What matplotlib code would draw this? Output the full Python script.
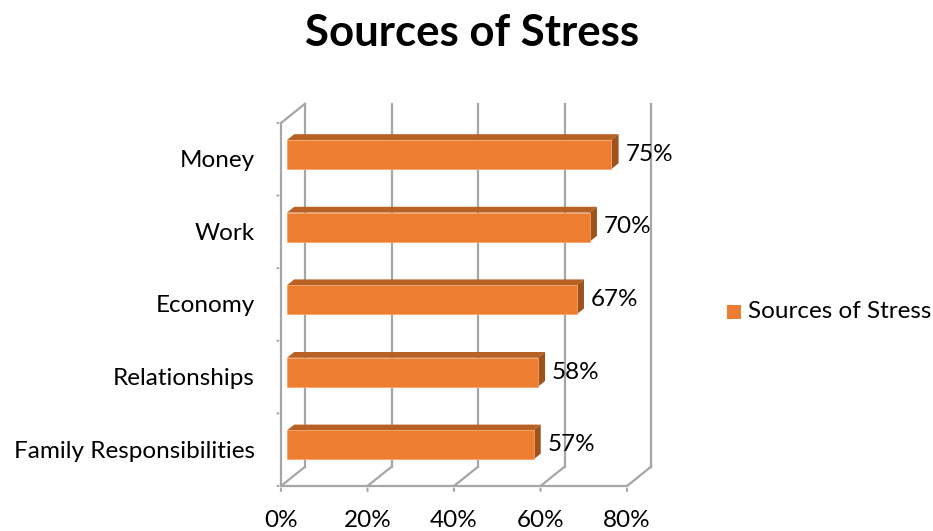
import matplotlib
matplotlib.use("Agg")
import matplotlib.pyplot as plt
from matplotlib.patches import Polygon, Rectangle

plt.rcParams['font.family'] = ['Lato', 'DejaVu Sans']

# Data
categories = ["Family Responsibilities", "Relationships", "Economy", "Work", "Money"]
values = [57, 58, 67, 70, 75]
x_ticks = [0, 20, 40, 60, 80]
x_tick_labels = ["0%", "20%", "40%", "60%", "80%"]
series_name = "Sources of Stress"

# Styling
FRONT = "#ED7D31"
TOP = "#B86124"
SIDE = "#9E521C"
GRID = "#A6A6A6"
DX, DY = 5.55, 0.265          # depth offset of the back wall (data units)
BAR_F0, BAR_F1 = 0.25, 0.55   # bar depth range (fraction of full depth)
BAR_H = 0.40                  # bar thickness in category units
FS = 17.5

fig = plt.figure(figsize=(9.33, 5.31), dpi=100)
W, H = 933, 531
ax = fig.add_axes([281 / W, (H - 486) / H, 346 / W, 363 / H])
ax.set_xlim(0, 80)
ax.set_ylim(0, len(categories))
ax.axis("off")

n = len(categories)
lw = 1.6
# back wall gridlines and floor diagonals
for t in x_ticks:
    ax.plot([t + DX, t + DX], [DY, n + DY], color=GRID, lw=lw, clip_on=False, zorder=1)
    ax.plot([t, t + DX], [0, DY], color=GRID, lw=lw, clip_on=False, zorder=1)
    # tick marks below the front axis
    ax.annotate("", xy=(t, 0), xytext=(0, -5.5), textcoords="offset points",
                arrowprops=dict(arrowstyle="-", color=GRID, lw=lw))
# front horizontal axis
ax.plot([0, 80], [0, 0], color=GRID, lw=lw, clip_on=False, zorder=1)
# side wall: front vertical axis and top edge
ax.plot([0, 0], [0, n], color=GRID, lw=lw, clip_on=False, zorder=1)
ax.plot([0, DX], [n, n + DY], color=GRID, lw=lw, clip_on=False, zorder=1)
for k in range(n + 1):
    ax.annotate("", xy=(0, k), xytext=(-4.5, 0), textcoords="offset points",
                arrowprops=dict(arrowstyle="-", color=GRID, lw=lw))

# bars drawn as 3D boxes
for i, v in enumerate(values):
    c = i + 0.5
    x0f, y0f = BAR_F0 * DX, c - BAR_H / 2 + BAR_F0 * DY
    x0b, y0b = BAR_F1 * DX, c - BAR_H / 2 + BAR_F1 * DY
    # top face
    ax.add_patch(Polygon([(x0f, y0f + BAR_H), (x0f + v, y0f + BAR_H),
                          (x0b + v, y0b + BAR_H), (x0b, y0b + BAR_H)],
                         closed=True, fc=TOP, ec="none", zorder=3, clip_on=False))
    # side face
    ax.add_patch(Polygon([(x0f + v, y0f), (x0f + v, y0f + BAR_H),
                          (x0b + v, y0b + BAR_H), (x0b + v, y0b)],
                         closed=True, fc=SIDE, ec="none", zorder=3, clip_on=False))
    # front face
    ax.add_patch(Rectangle((x0f, y0f), v, BAR_H, fc=FRONT, ec="#F4A46E", lw=0.6,
                           zorder=4, clip_on=False))
    ax.annotate(f"{v}%", xy=(x0b + v, c + (BAR_F0 + BAR_F1) / 2 * DY),
                xytext=(5, -2), textcoords="offset points",
                ha="left", va="center", fontsize=FS, color="#000000", zorder=5)

# category labels
for i, name in enumerate(categories):
    ax.annotate(name, xy=(0, i + 0.5), xytext=(-19, -1), textcoords="offset points",
                ha="right", va="center", fontsize=FS, color="#000000")

# x tick labels
for t, lab in zip(x_ticks, x_tick_labels):
    ax.annotate(lab, xy=(t, 0), xytext=(0, -25), textcoords="offset points",
                ha="center", va="center", fontsize=FS, color="#000000")

# title
fig.text(472 / W, 1 - 33 / H, series_name, ha="center", va="center",
         fontsize=31.5, fontweight="bold", color="#000000")

# legend
fig.patches.append(Rectangle((727 / W, 1 - 319 / H), 14 / W, 14 / H,
                             transform=fig.transFigure, fc=FRONT, ec="none"))
fig.text(748 / W, 1 - 312 / H, series_name, ha="left", va="center",
         fontsize=FS, color="#000000")

fig.savefig("out.png", dpi=100)
